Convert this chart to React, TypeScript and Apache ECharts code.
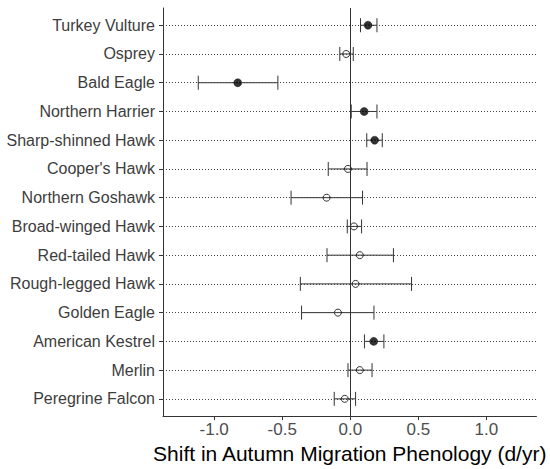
import React, { useEffect, useRef } from "react";
import * as echarts from "echarts";

const species = [
  "Turkey Vulture",
  "Osprey",
  "Bald Eagle",
  "Northern Harrier",
  "Sharp-shinned Hawk",
  "Cooper's Hawk",
  "Northern Goshawk",
  "Broad-winged Hawk",
  "Red-tailed Hawk",
  "Rough-legged Hawk",
  "Golden Eagle",
  "American Kestrel",
  "Merlin",
  "Peregrine Falcon",
];
const estimate = [0.13, -0.03, -0.827, 0.102, 0.179, -0.017, -0.174, 0.027, 0.07, 0.039, -0.091, 0.172, 0.07, -0.041];
const lower = [0.075, -0.077, -1.117, 0.007, 0.121, -0.162, -0.435, -0.022, -0.171, -0.367, -0.358, 0.104, -0.017, -0.118];
const upper = [0.196, 0.022, -0.532, 0.196, 0.235, 0.123, 0.09, 0.083, 0.317, 0.45, 0.174, 0.247, 0.16, 0.039];
const significant = [true, false, true, true, true, false, false, false, false, false, false, true, false, false];
const xTicks = [-1, -0.5, 0, 0.5, 1];
const xLabel = "Shift in Autumn Migration Phenology (d/yr)";

const FONT = "'Liberation Sans', Arial, sans-serif";
const X_MIN = -1.376;
const X_MAX = 1.368;
const Y_MIN = -0.6;
const Y_MAX = 13.6;

export default function App() {
  const ref = useRef<HTMLDivElement>(null);
  useEffect(() => {
    if (!ref.current) return;
    const chart = echarts.init(ref.current, undefined, { renderer: "svg" });
    const yIdx = species.map((_, i) => i);
    const errData = species.map((_, i) => [lower[i], upper[i], i]);
    const filled = species
      .map((_, i) => (significant[i] ? [estimate[i], i] : null))
      .filter((d) => d !== null);
    const open = species
      .map((_, i) => (!significant[i] ? [estimate[i], i] : null))
      .filter((d) => d !== null);

    chart.setOption({
      animation: false,
      grid: { left: 163, right: 8.5, top: 8, bottom: 47 },
      xAxis: {
        type: "value",
        min: X_MIN,
        max: X_MAX,
        axisLine: { show: true, onZero: false, lineStyle: { color: "#333", width: 1 } },
        axisTick: { show: true, length: 4, lineStyle: { color: "#333" }, customValues: xTicks },
        axisLabel: {
          customValues: xTicks,
          color: "#4d4d4d",
          fontSize: 17,
          fontFamily: FONT,
          margin: 5,
          formatter: (v: number) => v.toFixed(1),
        },
        splitLine: { show: false },
        name: xLabel,
        nameLocation: "middle",
        nameGap: 16,
        nameTextStyle: { color: "#000", fontSize: 21, fontFamily: FONT },
      },
      yAxis: {
        type: "value",
        min: Y_MIN,
        max: Y_MAX,
        inverse: true,
        axisLine: { show: true, onZero: false, lineStyle: { color: "#333", width: 1 } },
        axisTick: { show: true, length: 4, lineStyle: { color: "#333" }, customValues: yIdx },
        axisLabel: {
          customValues: yIdx,
          color: "#3d3d3d",
          fontSize: 16,
          fontFamily: FONT,
          margin: 8,
          formatter: (v: number) => species[Math.round(v)] ?? "",
        },
        splitLine: { show: false },
      },
      series: [
        {
          type: "scatter",
          data: [],
          z: 1,
          silent: true,
          markLine: {
            silent: true,
            symbol: ["none", "none"],
            label: { show: false },
            lineStyle: { type: [1, 2], color: "#444", width: 1 },
            data: yIdx.map((i) => [{ coord: [X_MIN, i] }, { coord: [X_MAX, i] }]),
          },
        },
        {
          type: "scatter",
          data: [],
          z: 2,
          silent: true,
          markLine: {
            silent: true,
            symbol: ["none", "none"],
            label: { show: false },
            lineStyle: { type: "solid", color: "#333", width: 1 },
            data: [[{ coord: [0, Y_MIN] }, { coord: [0, Y_MAX] }]],
          },
        },
        {
          type: "custom",
          z: 3,
          data: errData,
          encode: { x: [0, 1], y: 2 },
          renderItem: (params: any, api: any) => {
            const lo = api.coord([api.value(0), api.value(2)]);
            const hi = api.coord([api.value(1), api.value(2)]);
            const h = 7;
            const style = { stroke: "#333", lineWidth: 1 };
            return {
              type: "group",
              children: [
                { type: "line", shape: { x1: lo[0], y1: lo[1], x2: hi[0], y2: hi[1] }, style },
                { type: "line", shape: { x1: lo[0], y1: lo[1] - h, x2: lo[0], y2: lo[1] + h }, style },
                { type: "line", shape: { x1: hi[0], y1: hi[1] - h, x2: hi[0], y2: hi[1] + h }, style },
              ],
            };
          },
        },
        {
          type: "scatter",
          z: 4,
          data: filled,
          symbol: "circle",
          symbolSize: 8,
          itemStyle: { color: "#000", borderColor: "#000", borderWidth: 0.5 },
        },
        {
          type: "scatter",
          z: 4,
          data: open,
          symbol: "circle",
          symbolSize: 7,
          itemStyle: { color: "transparent", borderColor: "#000", borderWidth: 1 },
        },
      ],
    });
    return () => chart.dispose();
  }, []);
  return (
    <div
      ref={ref}
      style={{ position: "fixed", left: 0, top: 0, width: 550, height: 469, background: "#fff" }}
    />
  );
}
